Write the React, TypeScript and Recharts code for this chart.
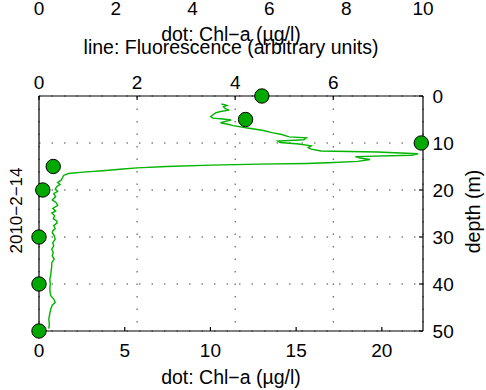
import { CartesianGrid, ComposedChart, Scatter, XAxis, YAxis } from 'recharts'

// dots: Chl-a samples
const chlDepth = [0, 5, 10, 15, 20, 30, 40, 50]
const chlValue = [13.0, 12.05, 22.3, 0.83, 0.22, 0, 0, 0]

// line: fluorescence profile
const flDepth = [
  1.7, 2.0, 2.3, 2.7, 3.0, 3.3, 3.6, 4.0, 4.4, 4.7, 4.9, 5.1, 5.4, 5.7, 6.0, 6.3, 6.8, 7.3, 7.8, 8.2,
  8.7, 8.9, 9.3, 9.6, 9.9, 10.2, 10.6, 11.0, 11.3, 11.7, 11.9, 12.3, 12.6, 12.9, 13.2, 13.5, 13.9, 14.2,
  14.35, 14.5, 14.7, 15.0, 15.3, 15.6, 15.9, 16.2, 16.5, 16.9, 17.4, 17.9, 18.4, 18.8, 19.3, 19.8, 20.3,
  20.8, 21.4, 22.1, 22.7, 23.3, 23.9, 24.5, 24.9, 25.5, 26.1, 26.6, 27.0, 27.6, 28.2, 28.7, 29.1, 29.7,
  30.5, 31.2, 31.9, 32.6, 33.3, 34.0, 34.7, 35.5, 36.2, 37.0, 38.0, 39.0, 40.0, 41.0, 42.0, 42.5, 43.2,
  43.9, 44.5, 45.3, 46.3, 47.4, 48.5, 49.5,
]
const flValue = [
  3.72, 3.83, 3.76, 3.8, 3.88, 3.7, 3.6, 3.55, 3.5, 3.55, 3.75, 3.92, 3.8, 3.7, 3.85, 3.96, 4.25, 4.55, 4.75, 4.95,
  5.1, 5.45, 5.4, 4.87, 4.92, 5.3, 5.55, 5.49, 5.55, 5.75, 6.9, 7.73, 7.6, 6.45, 6.55, 6.75, 6.5, 5.9,
  5.45, 4.5, 3.5, 2.6, 2.0, 1.65, 1.3, 0.9, 0.6, 0.5, 0.48, 0.45, 0.38, 0.43, 0.36, 0.33, 0.38,
  0.3, 0.34, 0.27, 0.35, 0.38, 0.28, 0.34, 0.26, 0.32, 0.29, 0.36, 0.37, 0.3, 0.33, 0.28, 0.27, 0.31,
  0.33, 0.28, 0.3, 0.26, 0.29, 0.27, 0.31, 0.26, 0.26, 0.25, 0.24, 0.22, 0.23, 0.22, 0.23, 0.24, 0.3,
  0.33, 0.27, 0.24, 0.22, 0.2, 0.21, 0.2,
]

const flTicks = [0, 2, 4, 6]
const chlTicks = [0, 5, 10, 15, 20]
const depthTicks = [0, 10, 20, 30, 40, 50]
const prevTicks = [0, 2, 4, 6, 8, 10]

const chlPoints = chlDepth.map((d, i) => ({ depth: d, chl: chlValue[i] }))
const flPoints = flDepth.map((d, i) => ({ depth: d, fl: flValue[i] }))

const font = '"Liberation Sans", Arial, Helvetica, sans-serif'
const tickStyle = { fill: '#000', fontSize: 19, fontFamily: font }
const axisStroke = { stroke: '#000', strokeWidth: 1.2 }
const labelStyle = { fill: '#000', fontSize: 19.5, fontFamily: font }

function Dot(props: any) {
  return <circle cx={props.cx} cy={props.cy} r={7.2} fill="#00a800" stroke="#000" strokeWidth={1} />
}

const NoMark = () => <g />

export default function App() {
  return (
    <div style={{ position: 'absolute', left: 0, top: 0, width: 486, height: 390, background: '#fff' }}>
      <ComposedChart width={486} height={390} margin={{ top: 0, right: 0, bottom: 0, left: 0 }} style={{ fontFamily: font }}>
        <CartesianGrid xAxisId="fl" yAxisId="depth" stroke="#444" strokeDasharray="1.5 11" />
        <XAxis
          xAxisId="fl" orientation="top" type="number" dataKey="fl" domain={[0, 7.83]} ticks={flTicks} interval={0}
          height={76} tickSize={-4} tickMargin={10.7} tick={tickStyle} axisLine={axisStroke} tickLine={axisStroke}
          label={{ value: 'line: Fluorescence (arbitrary units)', position: 'insideTop', offset: 19.7, ...labelStyle }}
        />
        <XAxis
          xAxisId="prev" orientation="top" type="number" dataKey="chl" domain={[0, 10]} ticks={prevTicks} interval={0}
          allowDataOverflow height={20} tickSize={0} tickMargin={5.3} tick={tickStyle} axisLine={false} tickLine={false}
          label={{ value: 'dot: Chl−a (µg/l)', position: 'bottom', offset: 6.7, ...labelStyle }}
        />
        <XAxis
          xAxisId="chl" orientation="bottom" type="number" dataKey="chl" domain={[0, 22.4]} ticks={chlTicks} interval={0}
          height={59} tickSize={-4} tickMargin={16.8} tick={tickStyle} axisLine={axisStroke} tickLine={axisStroke}
          label={{ value: 'dot: Chl−a (µg/l)', position: 'insideBottom', offset: 6.5, ...labelStyle }}
        />
        <XAxis
          xAxisId="chlTop" orientation="top" mirror type="number" dataKey="chl" domain={[0, 22.4]} ticks={chlTicks}
          interval={0} height={0} tickSize={4} tick={false} axisLine={false} tickLine={axisStroke}
        />
        <XAxis
          xAxisId="flBottom" orientation="bottom" mirror type="number" dataKey="fl" domain={[0, 7.83]} ticks={flTicks}
          interval={0} height={0} tickSize={4} tick={false} axisLine={false} tickLine={axisStroke}
        />
        <YAxis
          yAxisId="left" orientation="left" type="number" dataKey="depth" domain={[0, 50]} reversed ticks={depthTicks}
          interval={0} width={39} tickSize={-4} tick={false} axisLine={axisStroke} tickLine={axisStroke}
          label={{ value: '2010−2−14', angle: -90, position: 'center', dx: -3.8, dy: -3, ...labelStyle, fontSize: 17 }}
        />
        <YAxis
          yAxisId="depth" orientation="right" type="number" dataKey="depth" domain={[0, 50]} reversed ticks={depthTicks}
          interval={0} width={63} tickSize={-4} tickMargin={13.6} tick={tickStyle} axisLine={axisStroke} tickLine={axisStroke}
          label={{ value: 'depth (m)', angle: -90, position: 'center', dx: 18.5, dy: -2, ...labelStyle }}
        />
        {/* invisible copies so the mirrored / extra axes get a domain */}
        <Scatter xAxisId="chlTop" yAxisId="left" data={chlPoints} shape={NoMark} isAnimationActive={false} />
        <Scatter xAxisId="flBottom" yAxisId="left" data={flPoints} shape={NoMark} isAnimationActive={false} />
        <Scatter xAxisId="prev" yAxisId="left" data={chlPoints} shape={NoMark} isAnimationActive={false} />
        <Scatter
          xAxisId="fl" yAxisId="depth" data={flPoints} line={{ stroke: '#00b400', strokeWidth: 1.4 }} lineType="joint"
          shape={NoMark} isAnimationActive={false}
        />
        <Scatter xAxisId="chl" yAxisId="depth" data={chlPoints} shape={Dot} isAnimationActive={false} />
      </ComposedChart>
    </div>
  )
}
